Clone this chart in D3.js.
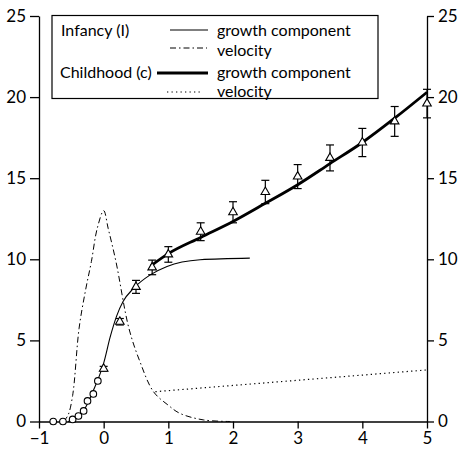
<!DOCTYPE html>
<html>
<head>
<meta charset="utf-8">
<script src="https://cdn.jsdelivr.net/npm/d3@7"></script>
<style>
  body { margin: 0; background: #fff; }
  text { font-family: Lato, "Open Sans", sans-serif; fill: #000; }
</style>
</head>
<body>
<script>
// tick values
var xTicks = [-1, 0, 1, 2, 3, 4, 5];
var yTicks = [0, 5, 10, 15, 20, 25];

// infancy observations (circles)
var infObsX = [-0.78, -0.63, -0.48, -0.39, -0.31, -0.25, -0.16, -0.09];
var infObsY = [0, 0, 0.13, 0.34, 0.65, 1.27, 1.7, 2.5];

// mean values with error bars (triangles)
var triX   = [0, 0.25, 0.5, 0.75, 1, 1.5, 2, 2.5, 3, 3.5, 4, 4.5, 5];
var triY   = [3.25, 6.15, 8.3, 9.5, 10.3, 11.7, 12.9, 14.15, 15.1, 16.25, 17.2, 18.5, 19.6];
var triErr = [0.15, 0.2, 0.4, 0.45, 0.48, 0.55, 0.65, 0.72, 0.74, 0.8, 0.87, 0.92, 0.88];

// infancy growth component
var infGrowthX = [-0.55, -0.45, -0.35, -0.25, -0.15, -0.05, 0, 0.1, 0.2, 0.3, 0.46, 0.72, 0.98, 1.49, 2.26];
var infGrowthY = [0, 0.15, 0.45, 1.1, 2.0, 3.0, 3.6, 5.2, 6.5, 7.4, 8.2, 9.04, 9.56, 9.97, 10.07];

// infancy velocity
var infVelX = [-0.62, -0.55, -0.48, -0.38, -0.28, -0.19, -0.1, 0, 0.07, 0.19, 0.39, 0.56, 0.77, 1.0, 1.18, 1.54, 1.96];
var infVelY = [0, 0.4, 1.6, 5.75, 8.1, 9.86, 11.9, 13.0, 11.9, 9.86, 5.75, 3.7, 1.84, 1.0, 0.5, 0.1, 0];

// childhood growth component
var chGrowthX = [0.73, 1, 1.5, 2, 2.5, 3, 3.5, 4, 4.5, 5];
var chGrowthY = [9.6, 10.35, 11.35, 12.33, 13.45, 14.6, 15.9, 17.2, 18.7, 20.3];

// childhood velocity
var chVelX = [0.8, 5];
var chVelY = [1.84, 3.18];

var width = 461, height = 453;

var svg = d3.select("body").append("svg")
    .attr("width", width)
    .attr("height", height);

var x = d3.scaleLinear().domain([-1, 5]).range([39, 427]);
var y = d3.scaleLinear().domain([0, 25]).range([421.5, 16]);

// axes
var axisStyle = function(g) {
  g.selectAll("path.domain").attr("stroke", "#000").attr("stroke-width", 1.3);
  g.selectAll(".tick line").attr("stroke", "#000").attr("stroke-width", 1.3);
  g.selectAll(".tick text").style("font-size", "17px").attr("fill", "#000")
    .style("font-family", "Lato, 'Open Sans', sans-serif");
};

svg.append("g")
    .attr("transform", "translate(0," + y(0) + ")")
    .call(d3.axisBottom(x).tickValues(xTicks).tickFormat(d3.format("d"))
      .tickSize(7).tickSizeOuter(0).tickPadding(3))
    .call(axisStyle);

svg.append("g")
    .attr("transform", "translate(" + x(-1) + ",0)")
    .call(d3.axisLeft(y).tickValues(yTicks).tickFormat(d3.format("d"))
      .tickSize(9).tickSizeOuter(0).tickPadding(4))
    .call(axisStyle);

svg.append("g")
    .attr("transform", "translate(" + x(5) + ",0)")
    .call(d3.axisRight(y).tickValues(yTicks).tickFormat(d3.format("d"))
      .tickSize(7).tickSizeOuter(0).tickPadding(4))
    .call(axisStyle);

function pts(xs, ys) { return xs.map(function(v, i) { return [v, ys[i]]; }); }

var line = d3.line()
    .x(function(d) { return x(d[0]); })
    .y(function(d) { return y(d[1]); });

// curves
svg.append("path").datum(pts(infVelX, infVelY))
    .attr("d", line.curve(d3.curveCatmullRom))
    .attr("fill", "none").attr("stroke", "#000").attr("stroke-width", 1)
    .attr("stroke-dasharray", "6,3,1.5,3");

svg.append("path").datum(pts(chVelX, chVelY))
    .attr("d", line.curve(d3.curveLinear))
    .attr("fill", "none").attr("stroke", "#000").attr("stroke-width", 1.2)
    .attr("stroke-dasharray", "1.3,3.2");

svg.append("path").datum(pts(infGrowthX, infGrowthY))
    .attr("d", line.curve(d3.curveMonotoneX))
    .attr("fill", "none").attr("stroke", "#000").attr("stroke-width", 1.1);

svg.append("path").datum(pts(chGrowthX, chGrowthY))
    .attr("d", line.curve(d3.curveMonotoneX))
    .attr("fill", "none").attr("stroke", "#000").attr("stroke-width", 2.8);

// error bars
var tri = pts(triX, triY).map(function(d, i) { return {x: d[0], y: d[1], e: triErr[i]}; });
var eb = svg.append("g").attr("stroke", "#000").attr("stroke-width", 1.2);
tri.forEach(function(d) {
  var cx = x(d.x);
  eb.append("line").attr("x1", cx).attr("x2", cx).attr("y1", y(d.y - d.e)).attr("y2", y(d.y + d.e));
  eb.append("line").attr("x1", cx - 4).attr("x2", cx + 4).attr("y1", y(d.y + d.e)).attr("y2", y(d.y + d.e));
  eb.append("line").attr("x1", cx - 4).attr("x2", cx + 4).attr("y1", y(d.y - d.e)).attr("y2", y(d.y - d.e));
});

// triangles
svg.selectAll("path.tri").data(tri).enter().append("path")
    .attr("class", "tri")
    .attr("d", d3.symbol().type(d3.symbolTriangle).size(32))
    .attr("transform", function(d) { return "translate(" + x(d.x) + "," + y(d.y) + ")"; })
    .attr("fill", "#fff").attr("stroke", "#000").attr("stroke-width", 1.1);

// circles
svg.selectAll("circle.obs").data(pts(infObsX, infObsY)).enter().append("circle")
    .attr("class", "obs")
    .attr("cx", function(d) { return x(d[0]); })
    .attr("cy", function(d) { return y(d[1]); })
    .attr("r", 3.3)
    .attr("fill", "#fff").attr("stroke", "#000").attr("stroke-width", 1.1);

// legend
var lg = svg.append("g");
lg.append("rect").attr("x", 52).attr("y", 15.5).attr("width", 326).attr("height", 83)
    .attr("fill", "#fff").attr("stroke", "#000").attr("stroke-width", 1.2);

var fs = "16px";
lg.append("text").attr("x", 61).attr("y", 36).style("font-size", fs).text("Infancy (I)");
lg.append("text").attr("x", 60).attr("y", 78).style("font-size", fs).text("Childhood (c)");
var rows = [
  {y: 30, ty: 36, x1: 170, x2: 208, w: 1.1, dash: null, label: "growth component"},
  {y: 48, ty: 56, x1: 170, x2: 207, w: 1, dash: "6,3,1.5,3", label: "velocity"},
  {y: 73, ty: 78, x1: 157, x2: 208, w: 2.8, dash: null, label: "growth component"},
  {y: 92, ty: 96.5, x1: 167, x2: 203, w: 1.2, dash: "1.3,3.2", label: "velocity"}
];
rows.forEach(function(r) {
  lg.append("line").attr("x1", r.x1).attr("x2", r.x2).attr("y1", r.y).attr("y2", r.y)
    .attr("stroke", "#000").attr("stroke-width", r.w)
    .attr("stroke-dasharray", r.dash);
  lg.append("text").attr("x", 217).attr("y", r.ty).style("font-size", fs).text(r.label);
});
</script>
</body>
</html>
